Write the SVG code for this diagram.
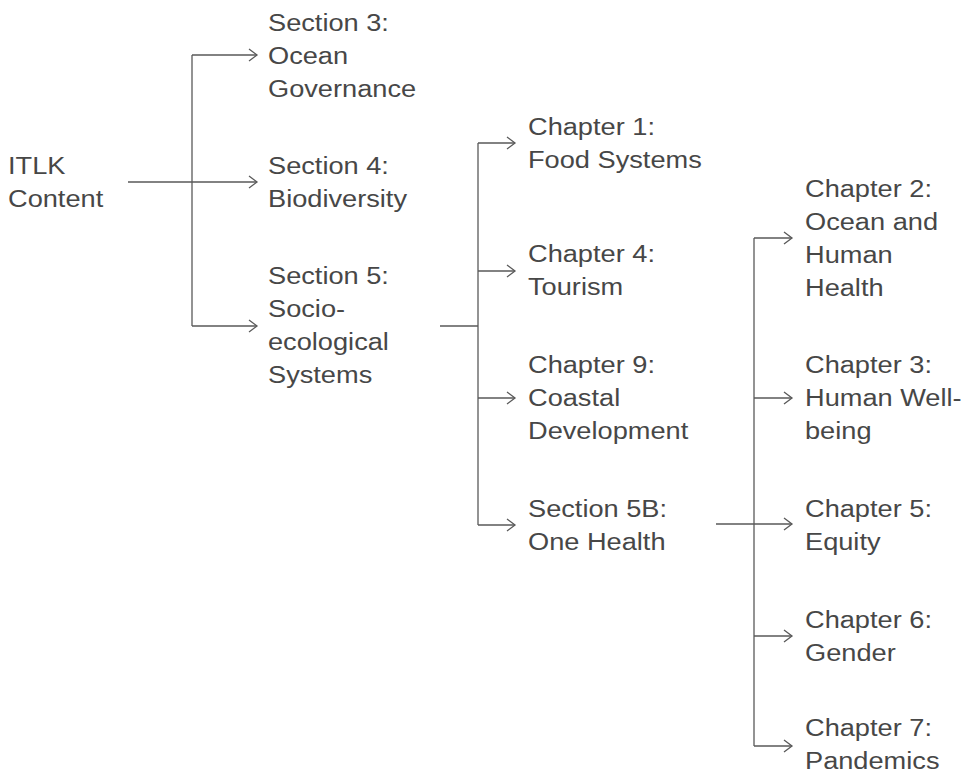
<svg xmlns="http://www.w3.org/2000/svg" width="965" height="774" viewBox="0 0 965 774">
<style>
  .t { font-family: "Liberation Sans", Arial, sans-serif; font-size: 24.5px; fill: #474747; }
  .c { fill: none; stroke: #595959; stroke-width: 1.3; }
  .a { marker-end: url(#arr); }
</style>
<defs>
  <marker id="arr" markerUnits="userSpaceOnUse" markerWidth="12" markerHeight="14" viewBox="0 0 12 14" refX="9" refY="7" orient="auto">
    <path d="M1,1 L9,7 L1,13" fill="none" stroke="#595959" stroke-width="1.3"/>
  </marker>
</defs>
<rect width="965" height="774" fill="#ffffff"/>

<g id="connectors">
  <path class="c a" d="M128,182 H257"/>
  <path class="c" d="M192,55 V326"/>
  <path class="c a" d="M192,55 H257"/>
  <path class="c a" d="M192,326 H257"/>

  <path class="c" d="M440,326 H478"/>
  <path class="c" d="M478,143 V525"/>
  <path class="c a" d="M478,143 H515"/>
  <path class="c a" d="M478,271 H515"/>
  <path class="c a" d="M478,398 H515"/>
  <path class="c a" d="M478,525 H515"/>

  <path class="c a" d="M716,524 H792"/>
  <path class="c" d="M754,238 V746"/>
  <path class="c a" d="M754,238 H792"/>
  <path class="c a" d="M754,398 H792"/>
  <path class="c a" d="M754,636 H792"/>
  <path class="c a" d="M754,746 H792"/>
</g>

<g id="itlk" transform="translate(8 0) scale(1.11 1)">
  <text class="t"><tspan x="0" y="174">ITLK</tspan><tspan x="0" y="207">Content</tspan></text>
</g>
<g id="section3" transform="translate(268 0) scale(1.11 1)">
  <text class="t"><tspan x="0" y="31">Section 3:</tspan><tspan x="0" y="64">Ocean</tspan><tspan x="0" y="97">Governance</tspan></text>
</g>
<g id="section4" transform="translate(268 0) scale(1.11 1)">
  <text class="t"><tspan x="0" y="174">Section 4:</tspan><tspan x="0" y="207">Biodiversity</tspan></text>
</g>
<g id="section5" transform="translate(268 0) scale(1.11 1)">
  <text class="t"><tspan x="0" y="284">Section 5:</tspan><tspan x="0" y="317">Socio-</tspan><tspan x="0" y="350">ecological</tspan><tspan x="0" y="383">Systems</tspan></text>
</g>
<g id="chapter1" transform="translate(528 0) scale(1.11 1)">
  <text class="t"><tspan x="0" y="135">Chapter 1:</tspan><tspan x="0" y="168">Food Systems</tspan></text>
</g>
<g id="chapter4" transform="translate(528 0) scale(1.11 1)">
  <text class="t"><tspan x="0" y="262">Chapter 4:</tspan><tspan x="0" y="295">Tourism</tspan></text>
</g>
<g id="chapter9" transform="translate(528 0) scale(1.11 1)">
  <text class="t"><tspan x="0" y="373">Chapter 9:</tspan><tspan x="0" y="406">Coastal</tspan><tspan x="0" y="439">Development</tspan></text>
</g>
<g id="section5b" transform="translate(528 0) scale(1.11 1)">
  <text class="t"><tspan x="0" y="517">Section 5B:</tspan><tspan x="0" y="550">One Health</tspan></text>
</g>
<g id="chapter2" transform="translate(805 0) scale(1.11 1)">
  <text class="t"><tspan x="0" y="197">Chapter 2:</tspan><tspan x="0" y="230">Ocean and</tspan><tspan x="0" y="263">Human</tspan><tspan x="0" y="296">Health</tspan></text>
</g>
<g id="chapter3" transform="translate(805 0) scale(1.11 1)">
  <text class="t"><tspan x="0" y="373">Chapter 3:</tspan><tspan x="0" y="406">Human Well-</tspan><tspan x="0" y="439">being</tspan></text>
</g>
<g id="chapter5" transform="translate(805 0) scale(1.11 1)">
  <text class="t"><tspan x="0" y="517">Chapter 5:</tspan><tspan x="0" y="550">Equity</tspan></text>
</g>
<g id="chapter6" transform="translate(805 0) scale(1.11 1)">
  <text class="t"><tspan x="0" y="628">Chapter 6:</tspan><tspan x="0" y="661">Gender</tspan></text>
</g>
<g id="chapter7" transform="translate(805 0) scale(1.11 1)">
  <text class="t"><tspan x="0" y="736">Chapter 7:</tspan><tspan x="0" y="769">Pandemics</tspan></text>
</g>
</svg>
